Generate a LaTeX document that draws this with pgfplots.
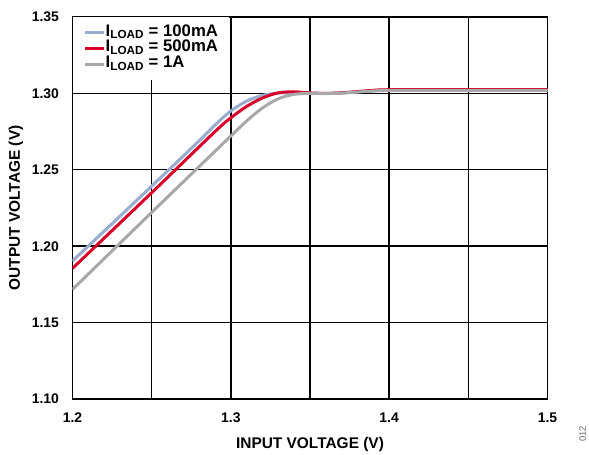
\documentclass[border=0pt]{standalone}
\usepackage{pgfplots}
\pgfplotsset{compat=1.18}
\usepackage{fontspec}
\setmainfont{Liberation Sans}
\definecolor{cblue}{RGB}{152,172,206}
\definecolor{cred}{RGB}{214,0,42}
\definecolor{cgray}{RGB}{168,168,168}
\begin{document}
\begin{tikzpicture}
\useasboundingbox (-72.5bp,-56bp) rectangle (516.5bp,399bp);
\begin{axis}[
  name=ax,
  scale only axis,
  width=475bp, height=382bp,
  xmin=1.2, xmax=1.5, ymin=1.10, ymax=1.35,
  xtick={1.2,1.3,1.4,1.5},
  minor xtick={1.25,1.35,1.45},
  ytick={1.10,1.15,1.20,1.25,1.30,1.35},
  grid=both,
  major grid style={black, line width=1.4bp},
  minor grid style={black, line width=1.4bp},
  axis line style={black, line width=1.8bp},
  major tick length=0pt, minor tick length=0pt,
  /pgf/number format/assume math mode=true,
  xticklabel style={font=\fontsize{14}{16}\selectfont\bfseries, yshift=-10bp},
  yticklabel style={font=\fontsize{14}{16}\selectfont\bfseries, xshift=-10bp,
    /pgf/number format/fixed, /pgf/number format/precision=2, /pgf/number format/fixed zerofill},
  xticklabel style={/pgf/number format/fixed, /pgf/number format/precision=1, /pgf/number format/fixed zerofill},
  xlabel={INPUT VOLTAGE (V)},
  ylabel={OUTPUT VOLTAGE (V)},
  label style={font=\fontsize{15.5}{17}\selectfont\bfseries},
  xlabel style={at={(axis description cs:0.5,0)}, anchor=base, yshift=-49bp},
  ylabel style={at={(axis description cs:-0.119,0.5)}, anchor=center},
  legend cell align=left,
  legend style={at={(rel axis cs:0,1)}, anchor=north west, draw=none, fill=white,
    font=\fontsize{16.8}{18}\selectfont\bfseries,
    inner xsep=11bp, inner ysep=8bp, row sep=0pt,
    nodes={inner sep=0pt, text height=11.2bp, text depth=4.4bp}},
  legend image code/.code={\draw[#1] (0bp,0bp) -- (19bp,0bp);},
]
\addplot[cblue, line width=3bp, smooth] coordinates {
(1.20,1.1903) (1.25,1.2393) (1.28,1.2690) (1.29,1.2793) (1.30,1.2885) (1.31,1.2950) (1.32,1.2987) (1.33,1.3002) (1.34,1.3003) (1.35,1.3000) (1.36,1.3000) (1.37,1.3003) (1.38,1.3010) (1.39,1.3017) (1.40,1.3020) (1.45,1.3020) (1.50,1.3020)};
\addlegendentry{I\textsubscript{LOAD} = 100mA}
\addplot[cred, line width=3bp, smooth] coordinates {
(1.20,1.1855) (1.25,1.2350) (1.29,1.2750) (1.30,1.2840) (1.31,1.2915) (1.32,1.2970) (1.33,1.3004) (1.34,1.3010) (1.35,1.3003) (1.36,1.3000) (1.37,1.3004) (1.38,1.3012) (1.39,1.3020) (1.40,1.3024) (1.45,1.3024) (1.50,1.3024)};
\addlegendentry{I\textsubscript{LOAD} = 500mA}
\addplot[cgray, line width=3bp, smooth] coordinates {
(1.20,1.1717) (1.25,1.2221) (1.30,1.2721) (1.31,1.2820) (1.32,1.2905) (1.33,1.2965) (1.34,1.2994) (1.35,1.3000) (1.36,1.2999) (1.37,1.3002) (1.38,1.3009) (1.39,1.3016) (1.40,1.3019) (1.45,1.3019) (1.50,1.3019)};
\addlegendentry{I\textsubscript{LOAD} = 1A}
\end{axis}
\node[rotate=90, anchor=center, font=\fontsize{9.5}{10}\selectfont, text=black!60] at ([xshift=35bp, yshift=-35bp]ax.south east) {012};
\end{tikzpicture}
\end{document}
